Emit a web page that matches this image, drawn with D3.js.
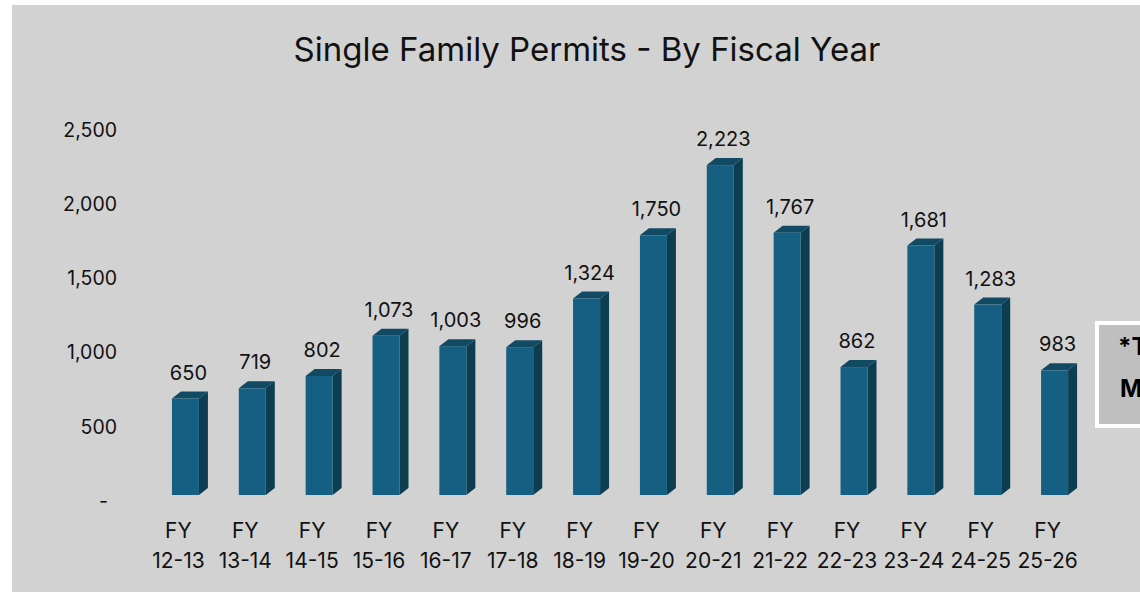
<!DOCTYPE html>
<html>
<head>
<meta charset="utf-8">
<script src="https://cdn.jsdelivr.net/npm/d3@7/dist/d3.min.js"></script>
<style>
  html, body { margin: 0; padding: 0; background: #ffffff; overflow: hidden; }
  svg { display: block; font-family: Inter, "Open Sans", sans-serif; }
</style>
</head>
<body>
<svg id="svg" width="1140" height="592"></svg>
<script>
// chart data
var categories = ["12-13", "13-14", "14-15", "15-16", "16-17", "17-18", "18-19",
	"19-20", "20-21", "21-22", "22-23", "23-24", "24-25", "25-26"];
var permitLabels = [650, 719, 802, 1073, 1003, 996, 1324, 1750, 2223, 1767, 862, 1681, 1283, 983];
// bar heights as drawn (the last, partial year bar sits lower than its label)
var permitBars = [650, 719, 802, 1073, 1003, 996, 1324, 1750, 2223, 1767, 862, 1681, 1283, 840];
var yTicks = [0, 500, 1000, 1500, 2000, 2500];
var noteLines = ["*T", "M"];

var svg = d3.select('#svg');

// gray chart area
svg.append('rect')
	.attr('x', 12).attr('y', 5)
	.attr('width', 1140).attr('height', 600)
	.attr('fill', '#d2d2d2');

svg.append('text')
	.attr('x', 587).attr('y', 61)
	.attr('text-anchor', 'middle')
	.style('font-size', '33px')
	.style('fill', '#111')
	.text('Single Family Permits - By Fiscal Year');

var x = d3.scaleBand()
	.domain(categories)
	.range([145, 1081])
	.padding(0);

var y = d3.scaleLinear()
	.domain([0, 2500])
	.range([495, 124]);

var bw = x.bandwidth(),
	barW = 27,
	dx = 9,
	dy = 7;

// y axis, drawn against the back wall (a bit lower than the front faces)
var yAxis = d3.axisLeft(y)
	.tickValues(yTicks)
	.tickSize(0)
	.tickPadding(0)
	.tickFormat(function(d){ return d === 0 ? "-" : d3.format(",")(d); });

var yg = svg.append('g')
	.attr('transform', 'translate(117,6)')
	.call(yAxis);
yg.select('.domain').remove();
yg.selectAll('text')
	.style('font-size', '19.5px')
	.style('font-family', 'Inter, sans-serif')
	.style('fill', '#111')
	.attr('dx', function(d){ return d === 0 ? -9 : 0; });

// category labels, two lines each
var xl = svg.append('g').selectAll('text')
	.data(categories)
	.enter()
	.append('text')
	.attr('text-anchor', 'middle')
	.style('font-size', '21px')
	.style('fill', '#111');
xl.append('tspan')
	.attr('x', function(d){ return x(d) + bw / 2; })
	.attr('y', 538)
	.text('FY');
xl.append('tspan')
	.attr('x', function(d){ return x(d) + bw / 2; })
	.attr('y', 568)
	.text(function(d){ return d; });

// 3d bars
var bars = svg.append('g').selectAll('g')
	.data(permitBars)
	.enter()
	.append('g');

function left(d, i){ return x(categories[i]) + bw / 2 - 6.5; }

bars.append('path')
	.attr('fill', '#0d3d50')
	.attr('d', function(d, i){
		var x1 = left(d, i) + barW, yt = y(d), y0 = y(0);
		return 'M' + x1 + ',' + yt + 'L' + (x1 + dx) + ',' + (yt - dy) +
			'L' + (x1 + dx) + ',' + (y0 - dy) + 'L' + x1 + ',' + y0 + 'Z';
	});

bars.append('path')
	.attr('fill', '#114a63')
	.attr('d', function(d, i){
		var x0 = left(d, i), x1 = x0 + barW, yt = y(d);
		return 'M' + x0 + ',' + yt + 'L' + (x0 + dx) + ',' + (yt - dy) +
			'L' + (x1 + dx) + ',' + (yt - dy) + 'L' + x1 + ',' + yt + 'Z';
	});

bars.append('rect')
	.attr('x', left)
	.attr('y', function(d){ return y(d); })
	.attr('width', barW)
	.attr('height', function(d){ return y(0) - y(d); })
	.attr('fill', '#156082');

bars.append('text')
	.attr('x', function(d, i){ return left(d, i) + barW / 2 + 3; })
	.attr('y', function(d){ return y(d) - dy - 12; })
	.attr('text-anchor', 'middle')
	.style('font-size', '20px')
	.style('fill', '#111')
	.text(function(d, i){ return d3.format(",")(permitLabels[i]); });

// note box cut off at the right edge
svg.append('rect')
	.attr('x', 1097).attr('y', 323)
	.attr('width', 120).attr('height', 103)
	.attr('fill', '#bfbfbf')
	.attr('stroke', '#ffffff')
	.attr('stroke-width', 4);

svg.append('g').selectAll('text')
	.data(noteLines)
	.enter()
	.append('text')
	.attr('x', function(d, i){ return i === 0 ? 1118 : 1120; })
	.attr('y', function(d, i){ return 355 + i * 42; })
	.style('font-size', '24px')
	.style('font-weight', 'bold')
	.style('fill', '#000')
	.text(function(d){ return d; });
</script>
</body>
</html>
